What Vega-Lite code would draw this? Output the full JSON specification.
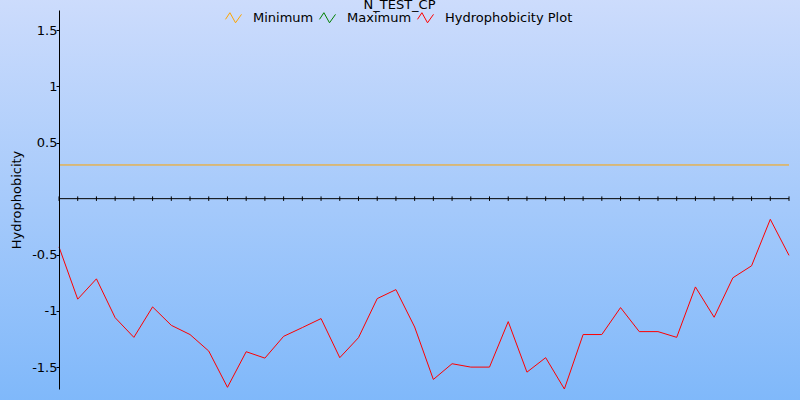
{
  "$schema": "https://vega.github.io/schema/vega-lite/v6.json",
  "width": 730,
  "height": 379,
  "autosize": {"type": "none"},
  "padding": {"left": 59, "top": 10, "right": 11, "bottom": 11},
  "background": "#a8cbfb",
  "title": {
    "text": "N_TEST_CP",
    "font": "DejaVu Sans",
    "fontSize": 13,
    "fontWeight": "normal",
    "color": "#000000",
    "anchor": "middle",
    "frame": "group",
    "baseline": "alphabetic",
    "dx": -24.5,
    "offset": -25.5,
    "zindex": 2
  },
  "config": {
    "view": {"stroke": null},
    "font": "DejaVu Sans"
  },
  "resolve": {"axis": {"y": "independent", "x": "independent"}},
  "datasets": {
    "hydro": [
      {"pos": 0, "value": -0.43, "series": "Hydrophobicity Plot"},
      {"pos": 1, "value": -0.895, "series": "Hydrophobicity Plot"},
      {"pos": 2, "value": -0.714, "series": "Hydrophobicity Plot"},
      {"pos": 3, "value": -1.06, "series": "Hydrophobicity Plot"},
      {"pos": 4, "value": -1.235, "series": "Hydrophobicity Plot"},
      {"pos": 5, "value": -0.964, "series": "Hydrophobicity Plot"},
      {"pos": 6, "value": -1.128, "series": "Hydrophobicity Plot"},
      {"pos": 7, "value": -1.21, "series": "Hydrophobicity Plot"},
      {"pos": 8, "value": -1.357, "series": "Hydrophobicity Plot"},
      {"pos": 9, "value": -1.68, "series": "Hydrophobicity Plot"},
      {"pos": 10, "value": -1.363, "series": "Hydrophobicity Plot"},
      {"pos": 11, "value": -1.42, "series": "Hydrophobicity Plot"},
      {"pos": 12, "value": -1.226, "series": "Hydrophobicity Plot"},
      {"pos": 13, "value": -1.148, "series": "Hydrophobicity Plot"},
      {"pos": 14, "value": -1.068, "series": "Hydrophobicity Plot"},
      {"pos": 15, "value": -1.416, "series": "Hydrophobicity Plot"},
      {"pos": 16, "value": -1.238, "series": "Hydrophobicity Plot"},
      {"pos": 17, "value": -0.89, "series": "Hydrophobicity Plot"},
      {"pos": 18, "value": -0.81, "series": "Hydrophobicity Plot"},
      {"pos": 19, "value": -1.143, "series": "Hydrophobicity Plot"},
      {"pos": 20, "value": -1.61, "series": "Hydrophobicity Plot"},
      {"pos": 21, "value": -1.47, "series": "Hydrophobicity Plot"},
      {"pos": 22, "value": -1.5, "series": "Hydrophobicity Plot"},
      {"pos": 23, "value": -1.5, "series": "Hydrophobicity Plot"},
      {"pos": 24, "value": -1.095, "series": "Hydrophobicity Plot"},
      {"pos": 25, "value": -1.545, "series": "Hydrophobicity Plot"},
      {"pos": 26, "value": -1.416, "series": "Hydrophobicity Plot"},
      {"pos": 27, "value": -1.695, "series": "Hydrophobicity Plot"},
      {"pos": 28, "value": -1.21, "series": "Hydrophobicity Plot"},
      {"pos": 29, "value": -1.21, "series": "Hydrophobicity Plot"},
      {"pos": 30, "value": -0.97, "series": "Hydrophobicity Plot"},
      {"pos": 31, "value": -1.184, "series": "Hydrophobicity Plot"},
      {"pos": 32, "value": -1.184, "series": "Hydrophobicity Plot"},
      {"pos": 33, "value": -1.235, "series": "Hydrophobicity Plot"},
      {"pos": 34, "value": -0.786, "series": "Hydrophobicity Plot"},
      {"pos": 35, "value": -1.056, "series": "Hydrophobicity Plot"},
      {"pos": 36, "value": -0.705, "series": "Hydrophobicity Plot"},
      {"pos": 37, "value": -0.598, "series": "Hydrophobicity Plot"},
      {"pos": 38, "value": -0.184, "series": "Hydrophobicity Plot"},
      {"pos": 39, "value": -0.505, "series": "Hydrophobicity Plot"}
    ],
    "limits": [
      {"series": "Minimum", "value": 0.3}
    ],
    "frame": [
      {"part": "background"}
    ]
  },
  "layer": [
    {
      "data": {"name": "frame"},
      "mark": {
        "type": "rect",
        "clip": false,
        "color": {
          "gradient": "linear",
          "x1": 0, "y1": 0, "x2": 0, "y2": 1,
          "stops": [
            {"offset": 0, "color": "#cddcfc"},
            {"offset": 1, "color": "#7fb8fa"}
          ]
        }
      },
      "encoding": {
        "x": {"datum": -3.3, "type": "quantitative", "axis": null},
        "x2": {"datum": 39.7},
        "y": {"datum": 1.8, "type": "quantitative", "axis": null},
        "y2": {"datum": -1.82}
      }
    },
    {
      "data": {"name": "frame"},
      "mark": {"type": "rule", "color": "#000000", "strokeWidth": 1},
      "encoding": {
        "y": {"datum": 0, "type": "quantitative", "axis": null}
      }
    },
    {
      "data": {"name": "hydro"},
      "mark": {"type": "rule", "color": "#000000", "strokeWidth": 1},
      "encoding": {
        "x": {"field": "pos", "type": "quantitative", "axis": null},
        "y": {"datum": -0.02, "type": "quantitative", "axis": null},
        "y2": {"datum": 0.02}
      }
    },
    {
      "data": {"name": "limits"},
      "mark": {"type": "rule", "strokeWidth": 1},
      "encoding": {
        "y": {"field": "value", "type": "quantitative", "axis": null},
        "color": {
          "field": "series",
          "type": "nominal",
          "scale": {
            "domain": ["Minimum", "Maximum", "Hydrophobicity Plot"],
            "range": ["#ffa500", "#008000", "#ff0000"]
          },
          "legend": {
            "title": null,
            "orient": "none",
            "legendX": 166,
            "legendY": -1,
            "direction": "horizontal",
            "symbolType": "M-1,0.2L-0.45,-0.63L0.25,0.63L1,-0.42",
            "symbolSize": 256,
            "symbolStrokeWidth": 1,
            "symbolFillColor": "transparent",
            "labelFont": "DejaVu Sans",
            "labelFontSize": 13,
            "labelColor": "#000000",
            "labelOffset": 11,
            "columnPadding": 3,
            "padding": 0,
            "zindex": 2
          }
        }
      }
    },
    {
      "data": {"name": "hydro"},
      "mark": {"type": "line", "strokeWidth": 1},
      "encoding": {
        "x": {
          "field": "pos",
          "type": "quantitative",
          "scale": {"domain": [0, 39], "nice": false, "zero": false},
          "axis": null
        },
        "y": {
          "field": "value",
          "type": "quantitative",
          "scale": {"domain": [-1.695, 1.68], "nice": false, "zero": false},
          "axis": {
            "title": "Hydrophobicity",
            "titleFont": "DejaVu Sans",
            "titleFontSize": 13,
            "titleFontWeight": "normal",
            "titleColor": "#000000",
            "titlePadding": 8,
            "values": [-1.5, -1, -0.5, 0.5, 1, 1.5],
            "labelExpr": "toString(datum.value)",
            "labelFont": "DejaVu Sans",
            "labelFontSize": 13,
            "labelColor": "#000000",
            "labelPadding": -1,
            "tickSize": 3,
            "tickColor": "#000000",
            "domainColor": "#000000",
            "grid": false,
            "zindex": 2
          }
        },
        "color": {
          "field": "series",
          "type": "nominal",
          "scale": {
            "domain": ["Minimum", "Maximum", "Hydrophobicity Plot"],
            "range": ["#ffa500", "#008000", "#ff0000"]
          },
          "legend": {
            "title": null,
            "orient": "none",
            "legendX": 166,
            "legendY": -1,
            "direction": "horizontal",
            "symbolType": "M-1,0.2L-0.45,-0.63L0.25,0.63L1,-0.42",
            "symbolSize": 256,
            "symbolStrokeWidth": 1,
            "symbolFillColor": "transparent",
            "labelFont": "DejaVu Sans",
            "labelFontSize": 13,
            "labelColor": "#000000",
            "labelOffset": 11,
            "columnPadding": 3,
            "padding": 0,
            "zindex": 2
          }
        }
      }
    }
  ]
}
